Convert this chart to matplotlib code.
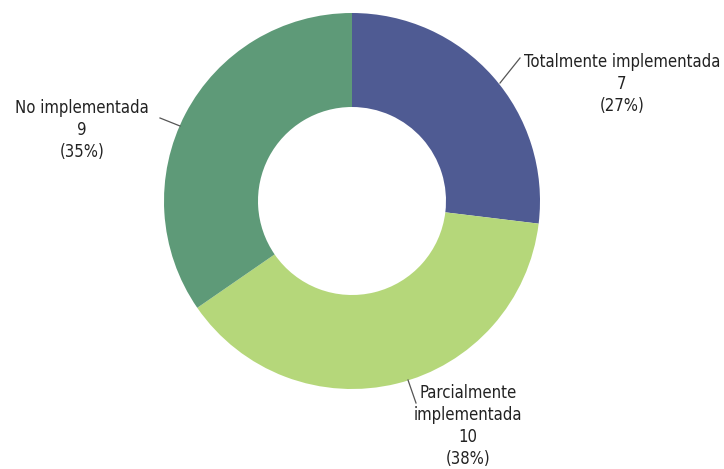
import matplotlib
matplotlib.use("Agg")
import matplotlib.pyplot as plt

W, H = 724, 469
DPI = 100

label_text = ["Totalmente implementada", "Parcialmente\nimplementada", "No implementada"]
values = [7, 10, 9]
colors = ["#4F5B93", "#B5D77A", "#5E9A78"]

plt.rcParams["font.family"] = ["DejaVu Sans"]
plt.rcParams["font.stretch"] = "condensed"

fig = plt.figure(figsize=(W / DPI, H / DPI), dpi=DPI)
cx, cy, r = 352, 201, 188
ax = fig.add_axes([(cx - r) / W, (H - cy - r) / H, 2 * r / W, 2 * r / H])

ax.pie(values, colors=colors, startangle=90, counterclock=False, radius=1,
       wedgeprops=dict(width=0.5, edgecolor="none"))
ax.set_xlim(-1, 1)
ax.set_ylim(-1, 1)
ax.set_aspect("equal")
ax.axis("off")


def px(x, y):
    return ((x - cx) / r, (cy - y) / r)


total = sum(values)
# text centre, leader start, leader end (pixels)
spots = [
    ((622, 84), (500, 83), (520, 58)),
    ((468, 426), (408, 380), (416, 403)),
    ((82, 130), (180, 126), (160, 118)),
]
for name, v, (tc, a, b) in zip(label_text, values, spots):
    pct = round(v / total * 100)
    ax.text(*px(*tc), f"{name}\n{v}\n({pct}%)", ha="center", va="center",
            fontsize=12, color="#222222", linespacing=1.3, fontweight="light")
    ax.plot(*zip(px(*a), px(*b)), color="#555555", lw=0.9, clip_on=False)

fig.savefig("out.png", dpi=DPI)
